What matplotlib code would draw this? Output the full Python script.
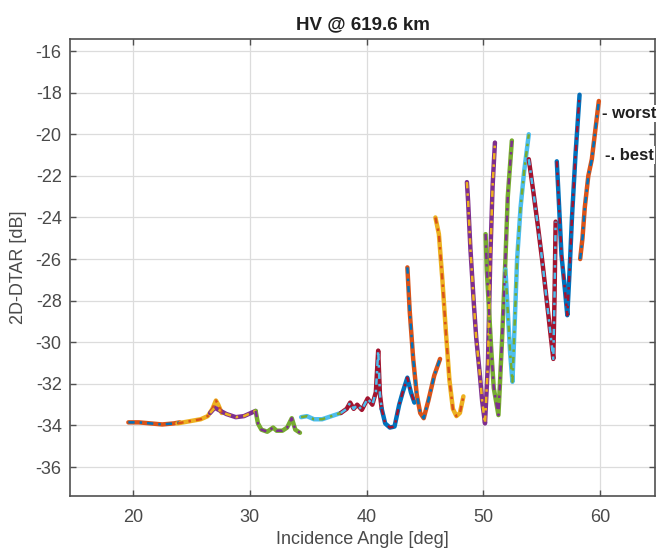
import numpy as np
import matplotlib
matplotlib.use("Agg")
import matplotlib.pyplot as plt

# MATLAB default colour order
BLUE = '#0072BD'
ORANGE = '#D95319'
YELLOW = '#EDB120'
PURPLE = '#7E2F8E'
GREEN = '#77AC30'
CYAN = '#4DBEEE'
DRED = '#A2142F'

# --- data: one list pair per beam (incidence angle [deg], 2D-DTAR [dB]) ---
beam01_ang = [19.6, 20.5, 21.5, 22.5, 23.5, 24.0]
beam01_val = [-33.85, -33.85, -33.9, -33.95, -33.9, -33.85]
beam02_ang = [23.8, 24.8, 25.8, 26.4, 26.8, 27.1, 27.3, 27.6]
beam02_val = [-33.9, -33.8, -33.7, -33.55, -33.2, -32.8, -33.0, -33.4]
beam03_ang = [26.6, 27.0, 27.5, 28.0, 28.8, 29.5, 30.1, 30.5]
beam03_val = [-33.4, -33.15, -33.3, -33.45, -33.6, -33.55, -33.4, -33.3]
beam04_ang = [30.5, 30.7, 31.0, 31.5, 32.0, 32.3, 32.8, 33.2, 33.6, 33.9, 34.3]
beam04_val = [-33.3, -33.9, -34.2, -34.3, -34.1, -34.25, -34.25, -34.1, -33.65, -34.2, -34.35]
beam05_ang = [34.4, 34.9, 35.5, 36.2, 37.0, 37.8]
beam05_val = [-33.6, -33.55, -33.7, -33.7, -33.55, -33.4]
beam06_ang = [37.8, 38.3, 38.6, 38.9, 39.2, 39.6, 40.1, 40.5, 40.8, 41.0, 41.15, 41.3]
beam06_val = [-33.4, -33.2, -32.9, -33.2, -33.0, -33.25, -32.7, -33.0, -32.4, -30.4, -32.5, -33.2]
beam07_ang = [41.3, 41.6, 42.0, 42.4, 42.8, 43.1, 43.5, 43.8, 44.1]
beam07_val = [-33.2, -33.9, -34.1, -34.05, -33.0, -32.4, -31.7, -32.4, -32.9]
beam08_ang = [43.5, 43.7, 44.0, 44.3, 44.6, 44.9, 45.3, 45.8, 46.3]
beam08_val = [-26.4, -28.5, -30.8, -32.5, -33.4, -33.65, -32.8, -31.6, -30.8]
beam09_ang = [45.9, 46.2, 46.5, 46.8, 47.1, 47.4, 47.7, 48.0, 48.3]
beam09_val = [-24.0, -24.8, -27.0, -29.5, -31.8, -33.2, -33.55, -33.4, -32.6]
beam10_ang = [48.6, 48.7, 48.9, 49.2, 49.4, 49.7, 49.9, 50.15, 50.4, 50.6, 50.8, 51.0]
beam10_val = [-22.3, -23.2, -25.5, -28.2, -29.8, -31.5, -32.8, -33.9, -31.0, -26.0, -22.5, -20.4]
beam11_ang = [50.2, 50.3, 50.5, 50.7, 50.9, 51.3, 51.6, 51.9, 52.1, 52.45]
beam11_val = [-24.8, -26.5, -28.5, -30.5, -32.2, -33.5, -30.0, -26.0, -23.0, -20.3]
beam12_ang = [51.9, 52.1, 52.3, 52.5, 52.7, 52.9, 53.2, 53.5, 53.9]
beam12_val = [-26.5, -28.5, -30.5, -31.9, -29.0, -26.0, -23.5, -21.8, -20.0]
beam13_ang = [53.9, 54.3, 54.7, 55.1, 55.5, 55.8, 56.0, 56.1, 56.2]
beam13_val = [-21.2, -22.8, -24.5, -26.3, -28.3, -29.8, -30.8, -28.0, -24.2]
beam14_ang = [56.3, 56.5, 56.7, 57.0, 57.2, 57.4, 57.6, 57.9, 58.25]
beam14_val = [-21.3, -23.5, -25.8, -27.5, -28.7, -26.5, -24.0, -21.0, -18.1]
beam15_ang = [58.3, 58.5, 58.7, 59.0, 59.3, 59.6, 59.9]
beam15_val = [-26.0, -25.0, -23.5, -22.0, -21.2, -19.8, -18.4]

beam_angles = [beam01_ang, beam02_ang, beam03_ang, beam04_ang, beam05_ang,
               beam06_ang, beam07_ang, beam08_ang, beam09_ang, beam10_ang,
               beam11_ang, beam12_ang, beam13_ang, beam14_ang, beam15_ang]
beam_values = [beam01_val, beam02_val, beam03_val, beam04_val, beam05_val,
               beam06_val, beam07_val, beam08_val, beam09_val, beam10_val,
               beam11_val, beam12_val, beam13_val, beam14_val, beam15_val]

worst_colors = [ORANGE, YELLOW, PURPLE, GREEN, CYAN, DRED, BLUE,
                ORANGE, YELLOW, PURPLE, GREEN, CYAN, DRED, BLUE, ORANGE]
best_colors = [BLUE, ORANGE, YELLOW, PURPLE, GREEN, CYAN, DRED,
               BLUE, ORANGE, YELLOW, PURPLE, GREEN, CYAN, DRED, BLUE]

x_ticks = [20, 30, 40, 50, 60]
y_ticks = [-36, -34, -32, -30, -28, -26, -24, -22, -20, -18, -16]

plt.rcParams['font.family'] = ['Liberation Sans', 'DejaVu Sans']
plt.rcParams['axes.unicode_minus'] = False

fig = plt.figure(figsize=(6.59, 5.56), dpi=100)
ax = fig.add_axes([0.1062, 0.1079, 0.8877, 0.822])

# worst = solid, best = dash-dot drawn on top
for ang, val, cw, cb in zip(beam_angles, beam_values, worst_colors, best_colors):
    ax.plot(ang, val, color=cw, linestyle='-', linewidth=3.2, solid_capstyle='round', zorder=3)
    ax.plot(ang, val, color=cb, linestyle=(0, (2.5, 2, 1, 2)), linewidth=1.8, zorder=4)

ax.set_xlim(14.6, 64.71)
ax.set_ylim(-37.39, -15.42)
ax.set_xticks(x_ticks)
ax.set_yticks(y_ticks)
ax.grid(True, color='#dcdcdc', linewidth=0.9)
ax.set_axisbelow(True)

for s in ax.spines.values():
    s.set_color('#505050')
    s.set_linewidth(1.2)
ax.tick_params(direction='in', length=4, width=1, color='#505050',
               top=True, right=True, labelsize=13, labelcolor='#4a4a4a')
ax.tick_params(axis='x', pad=9)
ax.tick_params(axis='y', pad=6)

ax.set_title('HV @ 619.6 km', fontsize=13.5, fontweight='bold', color='#202020', pad=7)
ax.set_xlabel('Incidence Angle [deg]', fontsize=13, color='#4a4a4a', labelpad=4)
ax.set_ylabel('2D-DTAR [dB]', fontsize=13, color='#4a4a4a', labelpad=6)

# legend-like labels at the right edge
ax.text(60.2, -19.0, '- worst', fontsize=12, fontweight='bold', color='#202020',
        va='center', ha='left', clip_on=False, zorder=6,
        bbox=dict(facecolor='white', edgecolor='none', pad=1))
ax.text(60.4, -21.0, '-. best', fontsize=12, fontweight='bold', color='#202020',
        va='center', ha='left', clip_on=False, zorder=6,
        bbox=dict(facecolor='white', edgecolor='none', pad=1))

fig.savefig('out.png', dpi=100)
